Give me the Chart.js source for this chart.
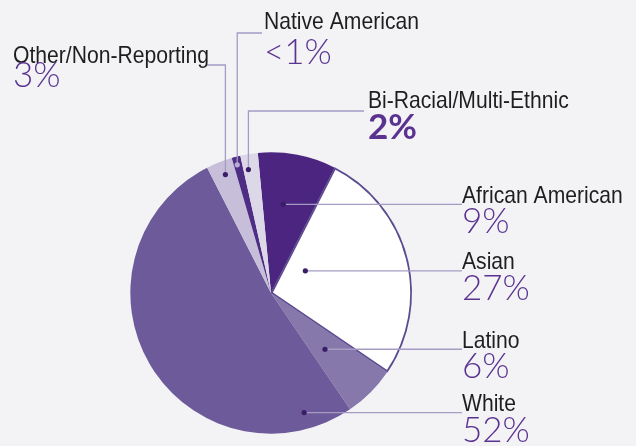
<!DOCTYPE html>
<html>
<head>
<meta charset="utf-8">
<script src="https://cdn.jsdelivr.net/npm/chart.js@4.4.1/dist/chart.umd.min.js"></script>
<style>
  html, body { margin: 0; padding: 0; background: #f3f3f6; }
  #wrap { width: 636px; height: 446px; position: relative; }
</style>
</head>
<body>
<div id="wrap"><canvas id="c" width="636" height="446"></canvas></div>
<script>
// ---- data ----
const categories = ["African American", "Asian", "Latino", "White", "Other/Non-Reporting", "Native American", "Bi-Racial/Multi-Ethnic"];
const values = [9, 27, 6, 52, 3, 1, 2];
const percentLabels = ["9%", "27%", "6%", "52%", "3%", "<1%", "2%"];

// ---- styles ----
const sliceColors = ["#4b2580", "#ffffff", "#8678ab", "#6d5a9a", "#c7bfda", "#4e2d84", "#ddd8e8"];
const sliceBorders = [0, 1.5, 0, 0, 0, 0, 0];
const dotColors = ["#3a1d66", "#3a1d66", "#3a1d66", "#3a1d66", "#3a1d66", "#b7acd2", "#3a1d66"];
// label layout: dot location inside slice (fraction of angle, fraction of radius)
const labelLayout = [
  { side: "right", af: 0.41, rf: 0.635, textX: 462 },
  { side: "right", af: 0.31, rf: 0.29, textX: 462 },
  { side: "right", af: 0.555, rf: 0.553, textX: 462 },
  { side: "right", af: 0.10, rf: 0.88, textX: 462 },
  { side: "top", af: 0.55, rf: 0.90, lineY: 65, lineEndX: 207, textX: 13, nameY: 63, pctY: 87 },
  { side: "top", af: 0.40, rf: 0.94, lineY: 33, lineEndX: 262, textX: 264, nameY: 29, pctY: 64 },
  { side: "top", af: 0.31, rf: 0.89, lineY: 111, lineEndX: 364, textX: 368, nameY: 108, pctY: 139 }
];

const NAME_FONT = '24px "Liberation Sans", Arial, sans-serif';
const NAME_SCALE = 0.88;
const PCT_FONT = '35px Lato, "Open Sans", sans-serif';
const PCT_COLOR = "#5a3390";
const LEADER_COLOR = "#a59bc3";

function drawName(ctx, text, x, y) {
  ctx.save();
  ctx.font = NAME_FONT;
  ctx.fillStyle = "#1e1e1e";
  ctx.textBaseline = "alphabetic";
  ctx.textAlign = "left";
  ctx.translate(x, y);
  ctx.scale(NAME_SCALE, 1);
  ctx.fillText(text, 0, 0);
  ctx.restore();
}
function drawPct(ctx, text, x, y, bold) {
  ctx.save();
  ctx.font = (bold ? "bold " : "300 ") + PCT_FONT;
  ctx.fillStyle = PCT_COLOR;
  ctx.textBaseline = "alphabetic";
  ctx.textAlign = "left";
  ctx.fillText(text, x, y);
  ctx.restore();
}

const bgPlugin = {
  id: "bg",
  beforeDraw(chart) {
    const ctx = chart.ctx;
    ctx.save();
    ctx.fillStyle = "#f3f3f6";
    ctx.fillRect(0, 0, chart.width, chart.height);
    ctx.restore();
  }
};

const labelPlugin = {
  id: "leaders",
  afterDatasetsDraw(chart) {
    const ctx = chart.ctx;
    const meta = chart.getDatasetMeta(0);
    meta.data.forEach((arc, i) => {
      const L = labelLayout[i];
      const a = arc.startAngle + L.af * (arc.endAngle - arc.startAngle);
      const r = L.rf * arc.outerRadius;
      const dx = arc.x + Math.cos(a) * r;
      const dy = arc.y + Math.sin(a) * r;
      ctx.save();
      ctx.strokeStyle = LEADER_COLOR;
      ctx.lineWidth = 1.3;
      ctx.beginPath();
      if (L.side === "right") {
        ctx.moveTo(dx, dy);
        ctx.lineTo(L.textX, dy);
      } else {
        ctx.moveTo(dx, dy);
        ctx.lineTo(dx, L.lineY);
        ctx.lineTo(L.lineEndX, L.lineY);
      }
      ctx.stroke();
      ctx.fillStyle = dotColors[i];
      ctx.beginPath();
      ctx.arc(dx, dy, 2.6, 0, Math.PI * 2);
      ctx.fill();
      ctx.restore();
      if (L.side === "right") {
        drawName(ctx, categories[i], L.textX, dy - 1.5);
        drawPct(ctx, percentLabels[i], L.textX, dy + 29, false);
      } else {
        drawName(ctx, categories[i], L.textX, L.nameY);
        drawPct(ctx, percentLabels[i], L.textX, L.pctY, i === 6);
      }
    });
  }
};

new Chart(document.getElementById("c"), {
  type: "pie",
  data: {
    labels: categories,
    datasets: [{
      data: values,
      backgroundColor: sliceColors,
      borderColor: "#5d4b90",
      borderWidth: sliceBorders,
      borderAlign: "inner"
    }]
  },
  options: {
    responsive: false,
    animation: false,
    rotation: -5.4,
    layout: { padding: { left: 130, right: 224, top: 152, bottom: 12 } },
    plugins: { legend: { display: false }, tooltip: { enabled: false } }
  },
  plugins: [bgPlugin, labelPlugin]
});
</script>
</body>
</html>
